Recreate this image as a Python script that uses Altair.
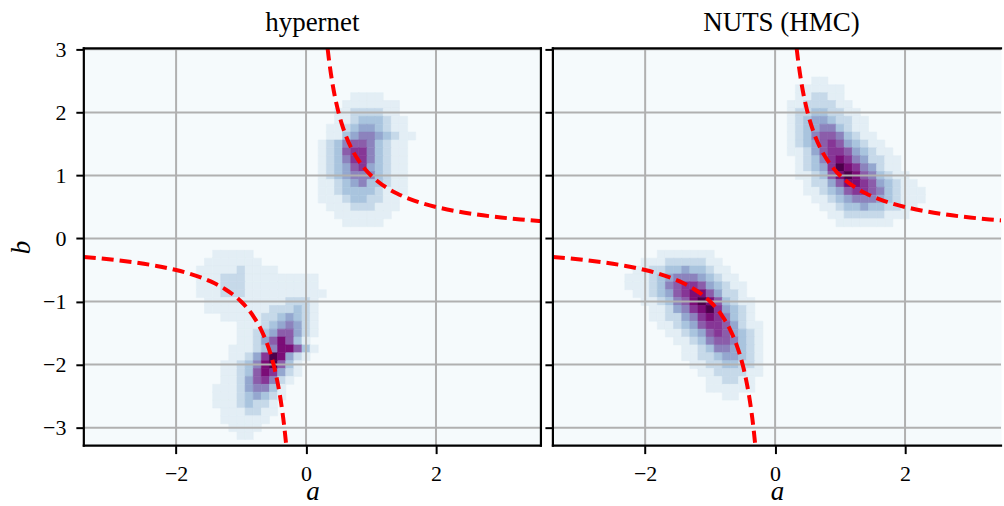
import altair as alt
import pandas as pd

SERIF = "Liberation Serif"
CELL = 0.125  # width of one density cell, in data units

# ---------------- density (levels 0-9, 0 = background) -------------
# hypernet panel, mode near a>0, b>0 (first character of each row is at a = 0.125)
HYP_UP_A0 = 0.125
HYP_UP_B = [2.25, 2.125, 2.0, 1.875, 1.75, 1.625, 1.5, 1.375, 1.25, 1.125,
            1.0, 0.875, 0.75, 0.625, 0.5, 0.375, 0.25]
HYP_UP_ROWS = [
    "00000111100000",
    "00001111111000",
    "00011222211000",
    "00011233321100",
    "00112344321100",
    "00113455432110",
    "01235665321100",
    "01236775321100",
    "01235775321100",
    "01234674321100",
    "01234555321100",
    "01123453321100",
    "01123333211100",
    "01112332211000",
    "00111222111000",
    "00011111110000",
    "00001111100000",
]

# hypernet panel, mode near a<0, b<0 (first character at a = -2.0)
HYP_LO_A0 = -2.0
HYP_LO_B = [-0.25, -0.375, -0.5, -0.625, -0.75, -0.875, -1.0, -1.125, -1.25, -1.375,
            -1.5, -1.625, -1.75, -1.875, -2.0, -2.125, -2.25, -2.375, -2.5, -2.625,
            -2.75, -2.875, -3.0, -3.125]
HYP_LO_ROWS = [
    "0000011111000000000",
    "0000111111100000000",
    "0001111121111000000",
    "0001112221111111110",
    "0001112221111111110",
    "0001112221111111111",
    "0000111111111122210",
    "0000111111112223210",
    "0000001111122343210",
    "0000000011123454210",
    "0000000011234664210",
    "0000000011246863100",
    "0000000111235886310",
    "0000000112479842100",
    "0000001123589631000",
    "0000001123687421000",
    "0000001124675210000",
    "0000011124553100000",
    "0000011123432100000",
    "0000011123221000000",
    "0000001112211000000",
    "0000001111110000000",
    "0000000111100000000",
    "0000000011000000000",
]

# NUTS panel, mode near a>0, b>0 (first character at a = 0.125)
NUTS_UP_A0 = 0.125
NUTS_UP_B = [2.5, 2.375, 2.25, 2.125, 2.0, 1.875, 1.75, 1.625, 1.5, 1.375,
             1.25, 1.125, 1.0, 0.875, 0.75, 0.625, 0.5, 0.375, 0.25]
NUTS_UP_ROWS = [
    "00001100000000000000",
    "00111111000000000000",
    "00112211000000000000",
    "01122221100000000000",
    "01223322110000000000",
    "01234432211000000000",
    "01234553211000000000",
    "01235665321100000000",
    "01234676432110000000",
    "01124677643211000000",
    "00123578754221100000",
    "00123479875421100000",
    "00112368986532110000",
    "00012246887643211000",
    "00011234677653211100",
    "00001123455543211100",
    "00000112334332211000",
    "00000011222221110000",
    "00000001111111000000",
]

# NUTS panel, mode near a<0, b<0 (first character at a = -2.5)
NUTS_LO_A0 = -2.5
NUTS_LO_B = [-0.25, -0.375, -0.5, -0.625, -0.75, -0.875, -1.0, -1.125, -1.25, -1.375,
             -1.5, -1.625, -1.75, -1.875, -2.0, -2.125, -2.25, -2.375, -2.5]
NUTS_LO_ROWS = [
    "00000011111110000000",
    "00001112222211000000",
    "00011223343321100000",
    "00111234555432110000",
    "00111235677643211000",
    "00011234678864221000",
    "00001123568986321100",
    "00000112457897432100",
    "00000112245787532100",
    "00000011234677642110",
    "00000001123467643210",
    "00000000112356653210",
    "00000000011235543210",
    "00000000011223443210",
    "00000000001122332210",
    "00000000000112222110",
    "00000000000011221100",
    "00000000000011111100",
    "00000000000000110000",
]

# dashed curve b = 1/a
CURVE_POS_A = [0.332, 0.35, 0.37, 0.4, 0.45, 0.5, 0.55, 0.6, 0.7, 0.8, 0.9, 1.0, 1.1,
               1.25, 1.4, 1.6, 1.8, 2.0, 2.3, 2.6, 3.0, 3.3, 3.62]
CURVE_POS_B = [3.012, 2.857, 2.703, 2.5, 2.222, 2.0, 1.818, 1.667, 1.429, 1.25, 1.111,
               1.0, 0.909, 0.8, 0.714, 0.625, 0.556, 0.5, 0.435, 0.385, 0.333, 0.303, 0.276]
CURVE_NEG_A = [-3.42, -3.0, -2.6, -2.3, -2.0, -1.8, -1.6, -1.4, -1.25, -1.1, -1.0,
               -0.9, -0.8, -0.7, -0.6, -0.55, -0.5, -0.45, -0.4, -0.37, -0.34, -0.305]
CURVE_NEG_B = [-0.292, -0.333, -0.385, -0.435, -0.5, -0.556, -0.625, -0.714, -0.8,
               -0.909, -1.0, -1.111, -1.25, -1.429, -1.667, -1.818, -2.0, -2.222,
               -2.5, -2.703, -2.941, -3.279]

X_TICKS = [-2, 0, 2]
Y_TICKS = [-3, -2, -1, 0, 1, 2, 3]
PANEL_TITLES = ["hypernet", "NUTS (HMC)"]

LEVEL_DOMAIN = [1, 2, 3, 4, 5, 6, 7, 8, 9]
LEVEL_COLORS = ["#e3eef5", "#c6d9e9", "#a9c4de", "#94a7cf", "#8c83bd",
                "#8b5daa", "#863696", "#7b0d77", "#4d004b"]


def cells_from(blocks):
    recs = []
    for a0, bs, rows in blocks:
        for b, row in zip(bs, rows):
            for k, ch in enumerate(row):
                lv = int(ch)
                if lv == 0:
                    continue
                a = a0 + CELL * k
                recs.append({"x0": a - CELL / 2, "x1": a + CELL / 2,
                             "y0": b - CELL / 2, "y1": b + CELL / 2, "level": lv})
    return pd.DataFrame(recs)


curve_df = pd.DataFrame(
    [{"a": a, "b": b, "branch": "pos", "k": i} for i, (a, b) in enumerate(zip(CURVE_POS_A, CURVE_POS_B))]
    + [{"a": a, "b": b, "branch": "neg", "k": i} for i, (a, b) in enumerate(zip(CURVE_NEG_A, CURVE_NEG_B))]
)

H = 398
GRID = "#b0b0b0"
ys = alt.Scale(domain=[-3.285, 3.015], nice=False, zero=False)
AX = dict(labelFont=SERIF, labelFontSize=22, labelColor="black", labelPadding=10,
          tickColor="black", tickWidth=2, tickSize=8, domain=False, grid=False,
          titleFont=SERIF, titleFontSize=27, titleFontStyle="italic",
          titleFontWeight="normal", titleColor="black")


def panel(cells, title, first, width, x_max):
    xs = alt.Scale(domain=[-3.42, x_max], nice=False, zero=False)
    xaxis = alt.Axis(values=X_TICKS, title="a", titleBaseline="alphabetic", titleY=54, **AX)
    if first:
        yaxis = alt.Axis(values=Y_TICKS, title="b", titleBaseline="alphabetic",
                         titleAngle=270, titleX=-54, **AX)
    else:
        yaxis = alt.Axis(values=Y_TICKS, labels=False, title=None, **AX)

    heat = alt.Chart(cells).mark_rect(clip=True, strokeWidth=0.6).encode(
        x=alt.X("x0:Q", scale=xs, axis=xaxis), x2="x1:Q",
        y=alt.Y("y0:Q", scale=ys, axis=yaxis), y2="y1:Q",
        color=alt.Color("level:O", scale=alt.Scale(domain=LEVEL_DOMAIN, range=LEVEL_COLORS), legend=None),
        stroke=alt.Stroke("level:O", scale=alt.Scale(domain=LEVEL_DOMAIN, range=LEVEL_COLORS), legend=None),
    )
    gx = alt.Chart(pd.DataFrame({"gx": X_TICKS})).mark_rule(color=GRID, strokeWidth=2).encode(
        x=alt.X("gx:Q", scale=xs, axis=xaxis))
    gy = alt.Chart(pd.DataFrame({"gy": Y_TICKS})).mark_rule(color=GRID, strokeWidth=2).encode(
        y=alt.Y("gy:Q", scale=ys, axis=yaxis))
    curve = alt.Chart(curve_df).mark_line(
        clip=True, color="#ff0000", strokeWidth=4, strokeDash=[12, 6], interpolate="monotone"
    ).encode(
        x=alt.X("a:Q", scale=xs, axis=xaxis),
        y=alt.Y("b:Q", scale=ys, axis=yaxis),
        detail="branch:N", order="k:Q",
    )
    one = pd.DataFrame({"f": [0]})
    fr = dict(color="black", strokeWidth=2.2, strokeCap="square")
    frames = [
        alt.Chart(one).mark_rule(**fr).encode(x=alt.value(0), x2=alt.value(width), y=alt.value(0)),
        alt.Chart(one).mark_rule(**fr).encode(x=alt.value(0), x2=alt.value(width), y=alt.value(H)),
        alt.Chart(one).mark_rule(**fr).encode(x=alt.value(0), y=alt.value(0), y2=alt.value(H)),
    ]
    if first:
        frames.append(alt.Chart(one).mark_rule(**fr).encode(
            x=alt.value(width), y=alt.value(0), y2=alt.value(H)))
    ttl = alt.Chart(one).mark_text(
        text=title, font=SERIF, fontSize=27, color="black", align="center", baseline="alphabetic"
    ).encode(x=alt.value(229), y=alt.value(-17.6))
    return alt.layer(heat, gx, gy, curve, *frames, ttl).properties(width=width, height=H)


left = panel(cells_from([(HYP_UP_A0, HYP_UP_B, HYP_UP_ROWS), (HYP_LO_A0, HYP_LO_B, HYP_LO_ROWS)]),
             PANEL_TITLES[0], True, 458, 3.615)
right = panel(cells_from([(NUTS_UP_A0, NUTS_UP_B, NUTS_UP_ROWS), (NUTS_LO_A0, NUTS_LO_B, NUTS_LO_ROWS)]),
              PANEL_TITLES[1], False, 449, 3.477)

chart = alt.hconcat(left, right, spacing=12, bounds="flush").properties(
    padding={"left": 7, "top": 7, "right": 0, "bottom": 0}
).configure_view(
    stroke="transparent", fill="#f5fafc"
)

chart.save("out.html", embed_options={"renderer": "svg", "actions": False})
